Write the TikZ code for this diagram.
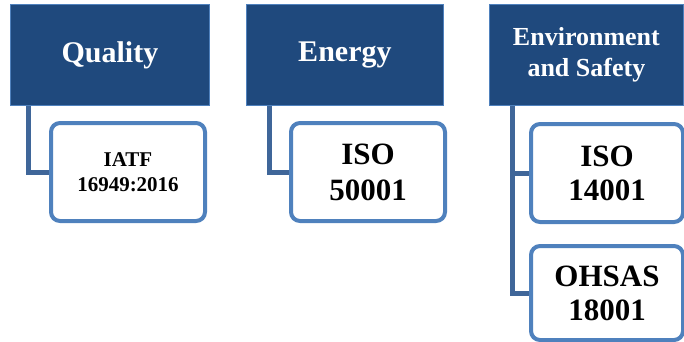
\documentclass[tikz,border=0pt]{standalone}
\usepackage{fontspec}
\setmainfont{Liberation Serif}
\usetikzlibrary{backgrounds}
\definecolor{hdrblue}{HTML}{1F497D}
\definecolor{hdredge}{HTML}{4F81BD}
\definecolor{boxedge}{HTML}{4F81BD}
\definecolor{linkblue}{HTML}{3F6699}
\newcommand{\fsz}[2]{\bfseries\fontsize{#1}{#2}\selectfont}
\tikzset{
  header/.style={fill=hdrblue, draw=hdredge, line width=0.8pt, anchor=north west,
    inner sep=0pt, text=white, align=center},
  stdbox/.style={fill=white, draw=boxedge, line width=4pt, rounded corners=9pt,
    anchor=north west, inner sep=0pt, text=black, align=center},
  link/.style={draw=linkblue, line width=5pt}
}
\begin{document}
\begin{tikzpicture}[x=1pt,y=-1pt]
\useasboundingbox (0,0) rectangle (684,341);
% headers
\node[header, font=\fsz{30}{34}, minimum width=199pt, minimum height=101pt] (qh) at (10,4)
  {Quality};
\node[header, font=\fsz{30}{34}, minimum width=197pt, minimum height=101pt] (eh) at (246,4)
  {Energy};
\node[header, font=\fsz{26}{31}, minimum width=194pt, minimum height=101pt] (sh) at (489,4)
  {Environment\\and Safety};
% child boxes
\node[stdbox, font=\fsz{21}{25}, minimum width=154pt, minimum height=98pt] (qc) at (49,121)
  {IATF\\16949:2016};
\node[stdbox, font=\fsz{31}{36}, minimum width=154pt, minimum height=98pt] (ec) at (289,121)
  {ISO\\50001};
\node[stdbox, font=\fsz{31}{34}, minimum width=152pt, minimum height=98pt] (sc1) at (529,122)
  {ISO\\14001};
\node[stdbox, font=\fsz{31}{34}, minimum width=152pt, minimum height=94pt] (sc2) at (529,244)
  {OHSAS\\18001};
% connectors
\begin{scope}[on background layer]
\draw[link] ([xshift=18pt]qh.south west) |- (qc.west);
\draw[link] ([xshift=23pt]eh.south west) |- (ec.west);
\draw[link] ([xshift=23pt]sh.south west) |- (sc1.west);
\draw[link] ([xshift=23pt]sh.south west) |- (sc2.west);
\end{scope}
\end{tikzpicture}
\end{document}
